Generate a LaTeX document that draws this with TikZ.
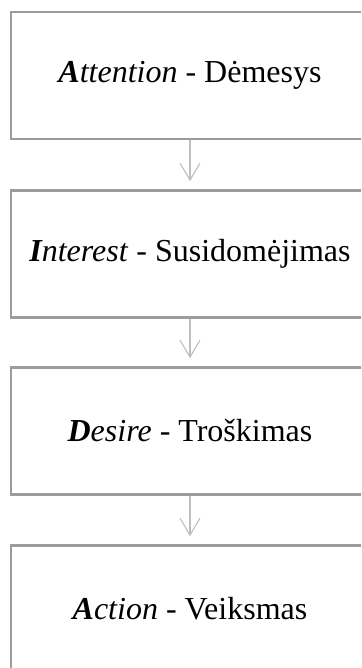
\documentclass[tikz,border=0pt]{standalone}
\usepackage{fontspec}
\setmainfont{Liberation Serif}
\usetikzlibrary{arrows.meta}
\definecolor{boxline}{HTML}{9C9C9C}
\definecolor{arrowline}{HTML}{BEBEBE}
\tikzset{
  stagebox/.style={draw=boxline, line width=2.6pt, minimum width=358pt,
    minimum height=127pt, inner sep=0pt,
    font=\fontsize{32}{37}\selectfont},
  flowarrow/.style={draw=arrowline, line width=1.1pt,
    -{Straight Barb[length=17pt,width=20pt,line width=1.1pt]},
    shorten >=8pt},
}
\newcommand{\stagekey}[2]{\textit{\textbf{#1}#2}}
\begin{document}
\begin{tikzpicture}[x=1pt,y=-1pt]
  \useasboundingbox (0,0) rectangle (361,668);
  \clip (0,0) rectangle (361,668);
  \node[stagebox] (b1) at (190,75.5) {\stagekey{A}{ttention} - Dėmesys};
  \node[stagebox] (b2) at (190,254) {\stagekey{I}{nterest} - Susidomėjimas};
  \node[stagebox] (b3) at (190,431) {\stagekey{D}{esire} - Troškimas};
  \node[stagebox] (b4) at (190,609) {\stagekey{A}{ction} - Veiksmas};
  \draw[flowarrow] (b1.south) -- (b2.north);
  \draw[flowarrow] (b2.south) -- (b3.north);
  \draw[flowarrow] (b3.south) -- (b4.north);
\end{tikzpicture}
\end{document}
